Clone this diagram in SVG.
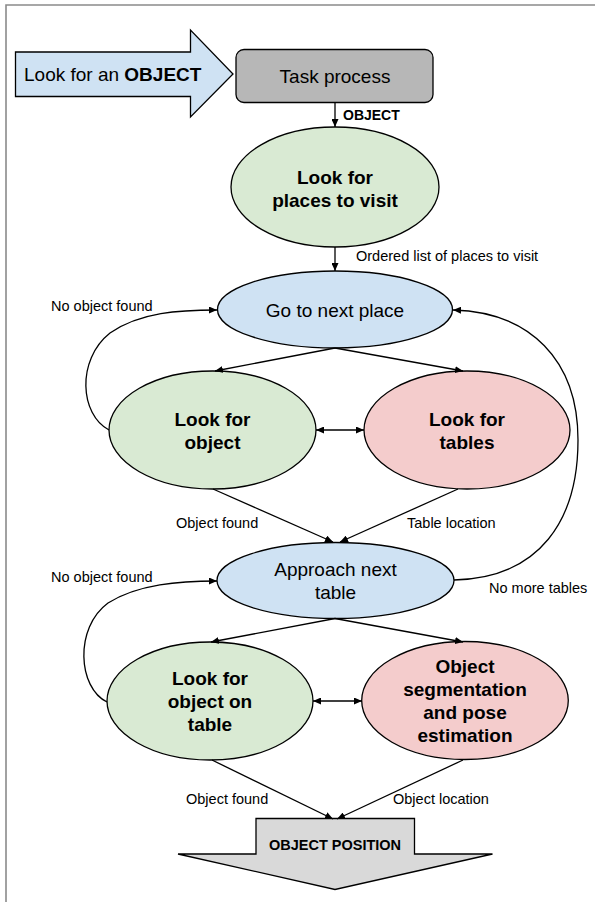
<svg xmlns="http://www.w3.org/2000/svg" width="595" height="902" viewBox="0 0 595 902">
<defs>
<marker id="ah" viewBox="0 0 8 7" refX="8" refY="3.5" markerWidth="8" markerHeight="7" markerUnits="userSpaceOnUse" orient="auto-start-reverse">
<path d="M0,0 L8,3.5 L0,7 z" fill="#000"/>
</marker>
</defs>
<style>
text{font-family:"Liberation Sans",Arial,sans-serif;fill:#000}
.big{font-size:19px}
.bold{font-weight:bold}
.lbl{font-size:14.5px}
.shape{stroke:#000;stroke-width:1.3}
.green{fill:#d9ead3}
.blue{fill:#cfe2f3}
.red{fill:#f4cccc}
.conn path{fill:none;stroke:#000;stroke-width:1.3}
</style>
<rect width="595" height="902" fill="#fff"/>
<path d="M6,902 V5 H595" fill="none" stroke="#8a8a8a" stroke-width="1.6"/>

<g id="start">
<path class="shape blue" d="M15.5,52 H190.5 V30 L233,74 L190.5,117 V96.5 H15.5 z"/>
<text class="big" x="24" y="81">Look for an <tspan class="bold">OBJECT</tspan></text>
</g>

<g id="task">
<rect class="shape" x="236" y="49.5" width="197" height="53" rx="8" fill="#b7b7b7"/>
<text class="big" x="335" y="83" text-anchor="middle">Task process</text>
</g>

<g id="places">
<ellipse class="shape green" cx="335" cy="187" rx="104" ry="60"/>
<text class="big bold" x="335" y="184" text-anchor="middle">Look for</text>
<text class="big bold" x="335" y="206.5" text-anchor="middle">places to visit</text>
</g>

<g id="gonext">
<ellipse class="shape blue" cx="335" cy="309.5" rx="117.5" ry="38.5"/>
<text class="big" x="335" y="316.5" text-anchor="middle">Go to next place</text>
</g>

<g id="lookobject">
<ellipse class="shape green" cx="212.5" cy="430" rx="103.5" ry="59"/>
<text class="big bold" x="212.5" y="425.5" text-anchor="middle">Look for</text>
<text class="big bold" x="212.5" y="448.5" text-anchor="middle">object</text>
</g>

<g id="looktables">
<ellipse class="shape red" cx="467" cy="430" rx="103" ry="59"/>
<text class="big bold" x="467" y="425.5" text-anchor="middle">Look for</text>
<text class="big bold" x="467" y="448.5" text-anchor="middle">tables</text>
</g>

<g id="approach">
<ellipse class="shape blue" cx="335.5" cy="580.5" rx="118.5" ry="38"/>
<text class="big" x="335.5" y="576" text-anchor="middle">Approach next</text>
<text class="big" x="335.5" y="598.5" text-anchor="middle">table</text>
</g>

<g id="objontable">
<ellipse class="shape green" cx="210" cy="701" rx="103" ry="59"/>
<text class="big bold" x="210" y="685" text-anchor="middle">Look for</text>
<text class="big bold" x="210" y="708" text-anchor="middle">object on</text>
<text class="big bold" x="210" y="731" text-anchor="middle">table</text>
</g>

<g id="segmentation">
<ellipse class="shape red" cx="465" cy="700.5" rx="103.3" ry="59"/>
<text class="big bold" x="465" y="672.5" text-anchor="middle">Object</text>
<text class="big bold" x="465" y="696" text-anchor="middle">segmentation</text>
<text class="big bold" x="465" y="719" text-anchor="middle">and pose</text>
<text class="big bold" x="465" y="742" text-anchor="middle">estimation</text>
</g>

<g id="position">
<path class="shape" fill="#d9d9d9" d="M256,818.5 H414.5 V854 H492.5 L335,889.5 L178,854 H256 z"/>
<text class="lbl bold" x="335" y="850" text-anchor="middle">OBJECT POSITION</text>
</g>

<g class="conn" id="connectors">
<path d="M335,103 L335,127" marker-end="url(#ah)"/>
<path d="M335,247 L335,271" marker-end="url(#ah)"/>
<path d="M335,348 L215,371" marker-end="url(#ah)"/>
<path d="M335,348 L463,371" marker-end="url(#ah)"/>
<path d="M316,430 L364,430" marker-start="url(#ah)" marker-end="url(#ah)"/>
<path d="M109,430 C80,415 76,360 110,333 C140,312 180,310 217,310" marker-end="url(#ah)"/>
<path d="M454,580 C540,578 578,520 578,440 C578,360 530,312 453,310" marker-end="url(#ah)"/>
<path d="M213,489 L333,542" marker-end="url(#ah)"/>
<path d="M458,489 L340,542" marker-end="url(#ah)"/>
<path d="M335,618.5 L211,642" marker-end="url(#ah)"/>
<path d="M335,618.5 L463,642" marker-end="url(#ah)"/>
<path d="M313,701 L362,701" marker-start="url(#ah)" marker-end="url(#ah)"/>
<path d="M107,702 C78,688 74,628 108,603 C138,584 180,581 217,581" marker-end="url(#ah)"/>
<path d="M212,760 L333,819" marker-end="url(#ah)"/>
<path d="M463,760 L337,819" marker-end="url(#ah)"/>
</g>

<g id="labels">
<text class="lbl bold" x="343" y="119.5" style="font-size:14px">OBJECT</text>
<text class="lbl" x="356" y="261">Ordered list of places to visit</text>
<text class="lbl" x="51" y="310.5">No object found</text>
<text class="lbl" x="176" y="528">Object found</text>
<text class="lbl" x="407" y="528">Table location</text>
<text class="lbl" x="51" y="581.5">No object found</text>
<text class="lbl" x="489" y="592.5">No more tables</text>
<text class="lbl" x="186" y="804">Object found</text>
<text class="lbl" x="393" y="804">Object location</text>
</g>
</svg>
